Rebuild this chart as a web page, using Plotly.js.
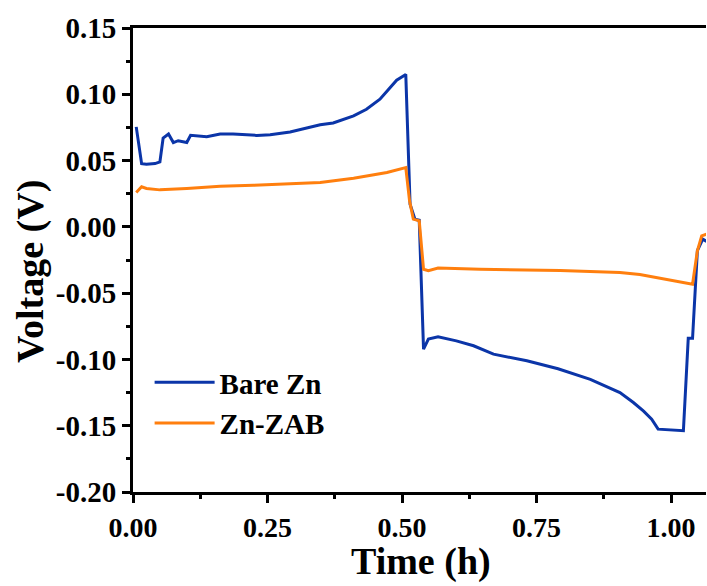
<!DOCTYPE html>
<html>
<head>
<meta charset="utf-8">
<script src="https://cdn.plot.ly/plotly-3.0.1.min.js"></script>
<style>html,body{margin:0;padding:0;background:#fff;}#chart{width:707px;height:586px;}</style>
</head>
<body>
<div id="chart"></div>
<script>
const bareT = [0.006,0.016,0.025,0.041,0.050,0.056,0.066,0.075,0.084,0.100,0.107,0.137,0.162,0.186,0.230,0.255,0.292,0.323,0.348,0.372,0.410,0.434,0.459,0.490,0.507,0.515,0.524,0.532,0.540,0.549,0.567,0.601,0.633,0.670,0.732,0.790,0.850,0.905,0.930,0.949,0.964,0.976,1.023,1.032,1.040,1.049,1.059,1.066];
const bareV = [0.0754,0.0477,0.0473,0.0477,0.049,0.067,0.070,0.0636,0.065,0.0636,0.069,0.068,0.070,0.070,0.069,0.0694,0.0716,0.0744,0.077,0.0784,0.0837,0.0887,0.0963,0.1106,0.115,0.017,0.0058,0.005,-0.0922,-0.0847,-0.083,-0.086,-0.0897,-0.096,-0.101,-0.107,-0.115,-0.125,-0.1325,-0.139,-0.145,-0.1526,-0.1538,-0.084,-0.084,-0.018,-0.0093,-0.011];
const zabT = [0.006,0.016,0.025,0.050,0.100,0.162,0.224,0.285,0.348,0.410,0.472,0.507,0.514,0.521,0.532,0.540,0.549,0.567,0.645,0.794,0.850,0.905,0.942,0.998,1.040,1.049,1.057,1.066];
const zabV = [0.0259,0.0302,0.029,0.0279,0.029,0.0307,0.0314,0.0322,0.0334,0.0367,0.041,0.0447,0.0196,0.0058,0.0045,-0.032,-0.033,-0.031,-0.032,-0.033,-0.0335,-0.0345,-0.036,-0.040,-0.0432,-0.018,-0.0068,-0.0055];
const seriesNames = ["Bare Zn","Zn-ZAB"];
const xTicks = [0,0.25,0.5,0.75,1.0];
const xTickText = ["0.00","0.25","0.50","0.75","1.00"];
const yTicks = [-0.2,-0.15,-0.1,-0.05,0,0.05,0.1,0.15];
const yTickText = ["-0.20","-0.15","-0.10","-0.05","0.00","0.05","0.10","0.15"];
const xTitle = "Time (h)";
const yTitle = "Voltage (V)";

const F = "Liberation Serif, Times New Roman, serif";
const b = s => "<b>" + s + "</b>";
const traces = [
  {x: bareT, y: bareV, name: b(seriesNames[0]), mode: "lines", line: {color: "#0b35a8", width: 3}},
  {x: zabT, y: zabV, name: b(seriesNames[1]), mode: "lines", line: {color: "#ff7f0e", width: 3}}
];
const layout = {
  width: 707, height: 586,
  margin: {l: 133, r: 1, t: 28, b: 94},
  paper_bgcolor: "#fff", plot_bgcolor: "#fff",
  font: {family: F, color: "#000"},
  showlegend: true,
  legend: {x: 0.029, y: 0.291, xanchor: "left", yanchor: "top", bgcolor: "rgba(0,0,0,0)",
           font: {family: F, size: 29, color: "#000"}, itemwidth: 60, tracegroupgap: 0},
  xaxis: {range: [0, 1.065], tickvals: xTicks, ticktext: xTickText.map(b), ticks: "outside", ticklen: 8, tickwidth: 3,
          tickcolor: "#000", showline: true, linewidth: 3, linecolor: "#000", mirror: true, showgrid: false, zeroline: false,
          tickfont: {family: F, size: 28, color: "#000"},
          minor: {dtick: 0.125, ticks: "outside", ticklen: 4, tickwidth: 3, tickcolor: "#000", showgrid: false}},
  yaxis: {range: [-0.2, 0.15], tickvals: yTicks, ticktext: yTickText.map(b), ticks: "outside", ticklen: 8, tickwidth: 3,
          tickcolor: "#000", showline: true, linewidth: 3, linecolor: "#000", mirror: false, showgrid: false, zeroline: false,
          tickfont: {family: F, size: 29, color: "#000"},
          minor: {dtick: 0.025, ticks: "outside", ticklen: 4, tickwidth: 3, tickcolor: "#000", showgrid: false}},
  annotations: [
    {text: b(yTitle), xref: "paper", yref: "paper", x: -0.18, y: 0.476, xanchor: "center", yanchor: "middle",
     textangle: -90, showarrow: false, font: {family: F, size: 38, color: "#000"}},
    {text: b(xTitle), xref: "paper", yref: "paper", x: 0.503, y: -0.149, xanchor: "center", yanchor: "middle",
     showarrow: false, font: {family: F, size: 38, color: "#000"}}
  ]
};
Plotly.newPlot("chart", traces, layout, {displayModeBar: false, staticPlot: true});
</script>
</body>
</html>
